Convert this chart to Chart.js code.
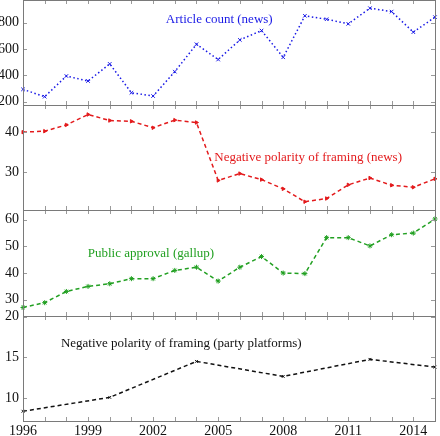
<!DOCTYPE html>
<html>
<head>
<meta charset="utf-8">
<script src="https://cdn.jsdelivr.net/npm/chart.js@4/dist/chart.umd.min.js"></script>
<style>
  html, body { margin: 0; padding: 0; background: #fff; }
  body { width: 440px; height: 436px; position: relative; overflow: hidden; }
  .panel { position: absolute; left: 0; width: 440px; }
  canvas { display: block; }
</style>
</head>
<body>
<div class="panel" style="top:-16px;height:137px"><canvas id="c1" width="440" height="137"></canvas></div>
<div class="panel" style="top:89px;height:137px"><canvas id="c2" width="440" height="137"></canvas></div>
<div class="panel" style="top:194px;height:138px"><canvas id="c3" width="440" height="138"></canvas></div>
<div class="panel" style="top:300px;height:136px"><canvas id="c4" width="440" height="136"></canvas></div>
<script>
// ---- data ----
const years = [1996,1997,1998,1999,2000,2001,2002,2003,2004,2005,2006,2007,2008,2009,2010,2011,2012,2013,2014,2015];
const articleCount = [294,238,395,357,487,268,243,428,636,520,669,740,537,852,826,791,910,884,728,842];
const negPolarityNews = [40.0,40.25,41.8,44.4,42.9,42.7,41.1,43.0,42.4,28.0,29.7,28.2,25.9,22.7,23.5,26.9,28.6,26.8,26.3,28.4];
const publicApproval = [27.1,28.9,33.1,35.0,36.0,37.9,37.9,41.0,42.2,37.0,42.2,46.2,40.0,39.8,53.3,53.3,50.2,54.4,55.0,60.3];
const platformYears = [1996,2000,2004,2008,2012,2015];
const negPolarityPlatforms = [8.36,10.07,14.5,12.65,14.75,13.8];
const xTickLabels = [1996,1999,2002,2005,2008,2011,2014];
const yTicks1 = [200,400,600,800];
const yTicks2 = [30,40];
const yTicks3 = [30,40,50,60];
const yTicks4 = [10,15,20];
const labels = ["Article count (news)", "Negative polarity of framing (news)", "Public approval (gallup)", "Negative polarity of framing (party platforms)"];

const FONT = "'Liberation Serif', 'DejaVu Serif', serif";
const FRAME = '#7a7a7a';
const TICKC = '#9a9a9a';

function framePlugin(yTickVals, label, labelX, labelY, labelColor) {
  return {
    id: 'frame',
    afterDatasetsDraw(chart) {
      const {ctx, chartArea: a, scales} = chart;
      const x = scales.x, y = scales.y;
      ctx.save();
      ctx.strokeStyle = TICKC;
      ctx.lineWidth = 1;
      ctx.beginPath();
      years.forEach(v => {
        const px = Math.round(x.getPixelForValue(v)) + 0.5;
        ctx.moveTo(px, a.top); ctx.lineTo(px, a.top + 4);
        ctx.moveTo(px, a.bottom); ctx.lineTo(px, a.bottom - 4);
      });
      yTickVals.forEach(v => {
        const py = Math.round(y.getPixelForValue(v)) + 0.5;
        ctx.moveTo(a.left, py); ctx.lineTo(a.left + 4, py);
        ctx.moveTo(a.right, py); ctx.lineTo(a.right - 4, py);
      });
      ctx.stroke();
      ctx.strokeStyle = FRAME;
      ctx.strokeRect(Math.round(a.left) + 0.5, Math.round(a.top) + 0.5, Math.round(a.right - a.left), Math.round(a.bottom - a.top));
      ctx.fillStyle = labelColor;
      ctx.font = "13px " + FONT;
      ctx.textAlign = 'center';
      ctx.textBaseline = 'middle';
      ctx.fillText(label, x.getPixelForValue(labelX), y.getPixelForValue(labelY));
      ctx.restore();
    }
  };
}

function makeChart(id, opts) {
  const showX = !!opts.showX;
  return new Chart(document.getElementById(id), {
    type: 'line',
    data: {
      datasets: [{
        data: opts.xs.map((v, i) => ({x: v, y: opts.ys[i]})),
        borderColor: opts.color,
        backgroundColor: opts.color,
        borderWidth: 1.5,
        borderDash: opts.dash,
        pointStyle: opts.pointStyle,
        pointRadius: opts.pointRadius,
        pointBorderWidth: 1,
        pointRotation: opts.pointRotation || 0,
        pointBorderColor: opts.color,
        pointBackgroundColor: opts.color,
        tension: 0,
        clip: false
      }]
    },
    options: {
      responsive: false,
      animation: false,
      events: [],
      layout: { padding: { top: 16, bottom: showX ? 0 : 16, left: 0, right: 3 } },
      plugins: { legend: { display: false }, tooltip: { enabled: false } },
      scales: {
        x: {
          type: 'linear',
          min: 1996, max: 2015,
          display: showX,
          afterBuildTicks: s => { s.ticks = years.map(v => ({value: v})); },
          afterFit: s => { if (showX) s.height = 15; },
          grid: { display: false, drawTicks: false, tickLength: 0 },
          border: { display: false },
          ticks: {
            autoSkip: false, maxRotation: 0, padding: 2,
            color: '#111',
            font: { family: FONT, size: 14 },
            callback: v => xTickLabels.includes(v) ? String(v) : ''
          }
        },
        y: {
          type: 'linear',
          min: opts.min, max: opts.max,
          afterBuildTicks: s => { s.ticks = opts.yTicks.map(v => ({value: v})); },
          afterFit: s => { s.width = 23; },
          grid: { display: false, drawTicks: false, tickLength: 0 },
          border: { display: false },
          ticks: {
            padding: 4,
            color: '#111',
            font: { family: FONT, size: 14 },
            callback: v => String(v)
          }
        }
      }
    },
    plugins: [framePlugin(opts.yTicks, opts.label, opts.labelX, opts.labelY, opts.labelColor)]
  });
}

makeChart('c1', {
  xs: years, ys: articleCount, color: '#1a1ae6', dash: [1.5, 2.5],
  pointStyle: 'crossRot', pointRadius: 2.5,
  min: 175, max: 972, yTicks: yTicks1,
  label: labels[0], labelX: 2005.05, labelY: 826, labelColor: '#1a1ae6'
});
makeChart('c2', {
  xs: years, ys: negPolarityNews, color: '#e31a1c', dash: [4, 3],
  pointStyle: 'triangle', pointRotation: 90, pointRadius: 2,
  min: 20.64, max: 46.76, yTicks: yTicks2,
  label: labels[1], labelX: 2009.15, labelY: 33.6, labelColor: '#e31a1c'
});
makeChart('c3', {
  xs: years, ys: publicApproval, color: '#22a022', dash: [4, 3],
  pointStyle: 'star', pointRadius: 2.5,
  min: 23.9, max: 63.67, yTicks: yTicks3,
  label: labels[2], labelX: 2001.9, labelY: 47.3, labelColor: '#22a022'
});
makeChart('c4', {
  xs: platformYears, ys: negPolarityPlatforms, color: '#111111', dash: [4, 3],
  pointStyle: 'crossRot', pointRadius: 2,
  min: 7.16, max: 20.09, yTicks: yTicks4,
  label: labels[3], labelX: 2003.3, labelY: 16.75, labelColor: '#111111',
  showX: true
});
</script>
</body>
</html>
